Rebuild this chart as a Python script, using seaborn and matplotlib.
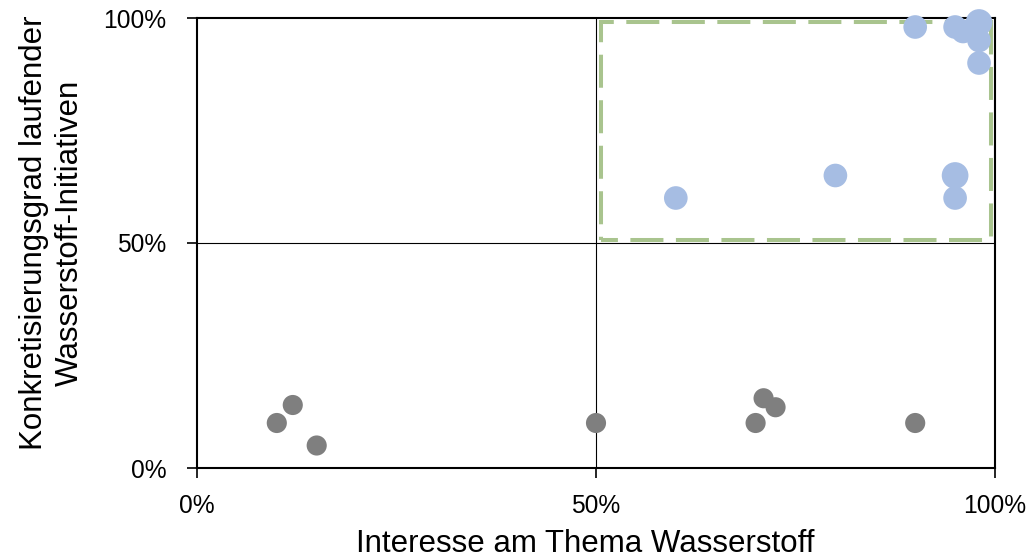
import matplotlib
matplotlib.use("Agg")
import matplotlib.pyplot as plt
from matplotlib.patches import Rectangle
from matplotlib.ticker import FuncFormatter
import seaborn as sns
import pandas as pd

# Data (percent)
gray_x = [10, 12, 15, 50, 71, 72.5, 70, 90]
gray_y = [10, 14, 5, 10, 15.5, 13.5, 10, 10]
blue_x = [60, 80, 95, 95, 90, 95, 96, 98, 98, 98]
blue_y = [60, 65, 65, 60, 98, 98, 97, 99, 95, 90]
blue_n = [1, 1, 2, 1, 1, 1, 1, 2, 1, 1]
ticks = [0, 50, 100]
x_label = "Interesse am Thema Wasserstoff"
y_label = "Konkretisierungsgrad laufender\nWasserstoff-Initiativen"

df = pd.concat([
    pd.DataFrame({"x": gray_x, "y": gray_y, "grp": "low", "n": 0}),
    pd.DataFrame({"x": blue_x, "y": blue_y, "grp": "high", "n": blue_n}),
], ignore_index=True)

sns.set_style("white")
plt.rcParams["font.family"] = ["Liberation Sans", "DejaVu Sans"]
plt.rcParams["text.color"] = "black"
plt.rcParams["axes.labelcolor"] = "black"

fig = plt.figure(figsize=(10.33, 5.58), dpi=100)
ax = fig.add_axes([197/1033, 1 - 468/558, (995-197)/1033, (468-18)/558])

ax.axhline(50, color="black", lw=0.8, zorder=1)
ax.axvline(50, color="black", lw=0.8, zorder=1)
ax.add_patch(Rectangle((50.6, 50.7), 48.9, 48.5, fill=False, edgecolor="#a9c48e",
                       lw=2.9, linestyle=(4, (8.2, 3.1)), zorder=2))

sns.scatterplot(data=df, x="x", y="y", hue="grp", size="n",
                palette={"low": "#7f7f7f", "high": "#a6bde3"},
                sizes={0: 210, 1: 290, 2: 370},
                linewidth=0, legend=False, ax=ax, zorder=3, clip_on=False)

ax.set_xlim(0, 100)
ax.set_ylim(0, 100)
ax.set_xticks(ticks)
ax.set_yticks(ticks)
fmt = FuncFormatter(lambda v, p: f"{int(v)}%")
ax.xaxis.set_major_formatter(fmt)
ax.yaxis.set_major_formatter(fmt)
ax.tick_params(axis="both", which="major", direction="out", length=7, width=1.2,
               labelsize=17.75, color="black", labelcolor="black", bottom=True, left=True)
ax.tick_params(axis="x", pad=12)
ax.tick_params(axis="y", pad=15)
for s in ax.spines.values():
    s.set_visible(True)
    s.set_color("black")
    s.set_linewidth(1.5)

ax.set_xlabel(x_label, fontsize=22.5)
ax.set_ylabel(y_label, fontsize=22.5, linespacing=1.22)
ax.xaxis.set_label_coords(0.487, -0.136)
ax.yaxis.set_label_coords(-0.141, 0.522)

fig.savefig("out.png", dpi=100)
